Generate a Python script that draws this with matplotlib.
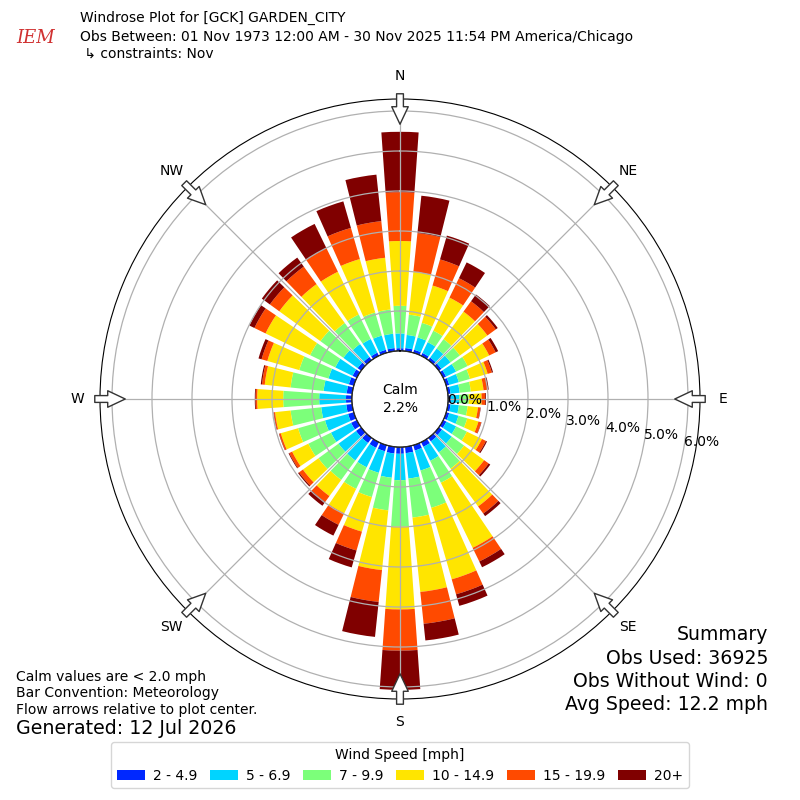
import numpy as np
import matplotlib
matplotlib.use("Agg")
import matplotlib.pyplot as plt
from matplotlib.patches import Patch

# direction bins (deg, meteorological, from north clockwise)
directions = np.arange(0, 360, 10)

speed_labels = ['2 - 4.9', '5 - 6.9', '7 - 9.9', '10 - 14.9', '15 - 19.9', '20+']
speed_colors = ['#0028ff', '#00d4ff', '#7cff7a', '#ffe500', '#ff4a00', '#800000']

cum_2 = [0.07, 0.08, 0.08, 0.08, 0.08, 0.08, 0.08, 0.08, 0.07, 0.07, 0.07, 0.08,
         0.09, 0.10, 0.11, 0.13, 0.14, 0.16, 0.17, 0.17, 0.16, 0.16, 0.16, 0.16,
         0.16, 0.15, 0.15, 0.15, 0.14, 0.13, 0.12, 0.11, 0.10, 0.09, 0.08, 0.08]
cum_5 = [0.44, 0.41, 0.40, 0.38, 0.36, 0.36, 0.36, 0.33, 0.30, 0.28, 0.28, 0.32,
         0.36, 0.40, 0.45, 0.52, 0.66, 0.80, 0.83, 0.78, 0.72, 0.70, 0.70, 0.70,
         0.72, 0.75, 0.78, 0.82, 0.72, 0.66, 0.60, 0.55, 0.50, 0.47, 0.45, 0.44]
cum_7 = [1.13, 0.92, 0.78, 0.70, 0.65, 0.65, 0.68, 0.62, 0.58, 0.52, 0.50, 0.55,
         0.66, 0.78, 0.95, 1.13, 1.63, 1.78, 1.99, 1.60, 1.35, 1.30, 1.30, 1.32,
         1.35, 1.45, 1.55, 1.72, 1.55, 1.42, 1.30, 1.26, 1.15, 1.15, 1.05, 1.05]
cum_10 = [2.75, 2.00, 1.75, 1.62, 1.50, 1.50, 1.28, 1.08, 0.90, 0.84, 0.76, 0.84,
          1.08, 1.40, 2.12, 2.94, 3.49, 3.65, 4.06, 3.10, 2.25, 1.98, 1.80, 1.80,
          1.80, 1.90, 1.94, 2.37, 2.20, 2.25, 2.54, 2.53, 2.35, 2.34, 2.44, 2.35]
cum_15 = [3.97, 2.97, 2.43, 2.16, 1.82, 1.76, 1.46, 1.19, 1.00, 0.93, 0.82, 0.91,
          1.19, 1.54, 2.34, 3.32, 3.88, 4.45, 5.09, 3.90, 2.74, 2.30, 1.98, 1.92,
          1.88, 1.94, 1.97, 2.41, 2.27, 2.40, 2.85, 2.82, 2.89, 2.99, 3.25, 3.27]
cum_20 = [5.48, 3.91, 3.05, 2.60, 2.03, 1.82, 1.53, 1.22, 1.03, 0.95, 0.83, 0.92,
          1.22, 1.59, 2.42, 3.48, 4.18, 4.87, 6.07, 4.78, 3.18, 2.60, 2.10, 1.95,
          1.90, 1.95, 1.98, 2.43, 2.30, 2.48, 2.99, 3.07, 3.17, 3.67, 3.94, 4.44]

calm_pct = 2.2
rticks = [0, 1, 2, 3, 4, 5, 6]
compass = ['N', 'NE', 'E', 'SE', 'S', 'SW', 'W', 'NW']
compass_deg = [0, 45, 90, 135, 180, 225, 270, 315]

fig = plt.figure(figsize=(8, 8), dpi=100)
ax = fig.add_axes([0.125, 0.12625, 0.75, 0.75], projection='polar')
ax.set_theta_zero_location('N')
ax.set_theta_direction(-1)

theta = np.radians(directions)
width = np.radians(8)
cums = np.array([cum_2, cum_5, cum_7, cum_10, cum_15, cum_20])
bottom = np.zeros(len(directions))
for i in range(len(speed_labels)):
    h = cums[i] - bottom
    ax.bar(theta, h, width=width, bottom=bottom, color=speed_colors[i],
           edgecolor='none', zorder=2)
    bottom = cums[i]

# calm circle edge
circ = np.linspace(0, 2 * np.pi, 361)
ax.plot(circ, np.zeros_like(circ), color='black', lw=1.0, zorder=4)

ax.set_rorigin(-1.2)
ax.set_ylim(0, 6.3)
ax.set_yticks(rticks)
ax.set_yticklabels(['%.1f%%' % r for r in rticks], fontsize=10)
ax.set_rlabel_position(100)
ax.set_xticks(np.radians(compass_deg))
ax.set_xticklabels([])
ax.grid(True, color='#b0b0b0', linewidth=0.9, zorder=3)
ax.set_axisbelow(False)

for lab, d in zip(compass, compass_deg):
    ax.text(np.radians(d), 6.87, lab, ha='center', va='center', fontsize=10)
    ax.annotate('', xy=(np.radians(d), 5.6), xytext=(np.radians(d), 6.5),
                arrowprops=dict(arrowstyle='simple,head_length=0.9,head_width=0.85,tail_width=0.35',
                                fc='white', ec='#333333', lw=1, mutation_scale=14),
                annotation_clip=False, zorder=5)

fig.text(0.5, 1 - 399 / 800, 'Calm\n%.1f%%' % calm_pct, ha='center', va='center',
         fontsize=10, linespacing=1.3)

# header
fig.text(0.02, 1 - 38 / 800, 'IEM', color='#d03030', fontsize=13, style='italic',
         family='DejaVu Serif', ha='left', va='center')
fig.text(0.1, 1 - 18 / 800, 'Windrose Plot for [GCK] GARDEN_CITY', fontsize=10, va='center')
fig.text(0.1, 1 - 37 / 800,
         'Obs Between: 01 Nov 1973 12:00 AM - 30 Nov 2025 11:54 PM America/Chicago',
         fontsize=10, va='center')
fig.text(0.1, 1 - 54 / 800, ' \u21b3 constraints: Nov', fontsize=10, va='center')

# footer notes
fig.text(0.02, 1 - 677 / 800, 'Calm values are < 2.0 mph', fontsize=10, va='center')
fig.text(0.02, 1 - 693 / 800, 'Bar Convention: Meteorology', fontsize=10, va='center')
fig.text(0.02, 1 - 710 / 800, 'Flow arrows relative to plot center.', fontsize=10, va='center')
fig.text(0.02, 1 - 729 / 800, 'Generated: 12 Jul 2026', fontsize=13.7, va='center')

summary = ['Summary', 'Obs Used: 36925', 'Obs Without Wind: 0', 'Avg Speed: 12.2 mph']
for k, s in enumerate(summary):
    fig.text(0.96, 1 - (635 + 23.3 * k) / 800, s, fontsize=13.6, ha='right', va='center')

handles = [Patch(facecolor=c, edgecolor='none') for c in speed_colors]
leg = fig.legend(handles, speed_labels, loc='lower center', bbox_to_anchor=(0.5, 0.006),
                 ncol=6, fontsize=10, title='Wind Speed [mph]', title_fontsize=10,
                 handlelength=2.0, handleheight=0.8, handletextpad=0.6,
                 columnspacing=0.9, frameon=True)

fig.savefig('out.png', dpi=100)
